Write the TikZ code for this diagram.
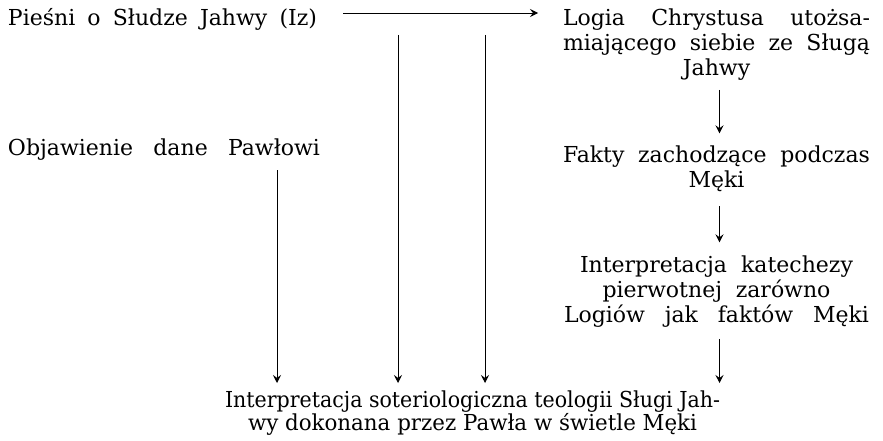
\documentclass[tikz,border=0pt]{standalone}
\usepackage{fontspec}
\usepackage{graphicx}
\setmainfont{DejaVu Serif}
\usetikzlibrary{arrows.meta,calc}
\newlength\natw
\newcommand{\jline}[2]{\settowidth\natw{#2}\ifdim\natw>#1pt\scalebox{\fpeval{#1/\natw}}[1]{#2}\else\makebox[#1pt][s]{#2}\fi}
\tikzset{
  txt/.style={inner sep=0pt, outer sep=0pt, anchor=base west, font=\fontsize{22}{25}\selectfont},
  arr/.style={-{Stealth[length=8pt,width=8pt,inset=3pt]}, line width=0.8pt}
}
\begin{document}
\begin{tikzpicture}[x=1pt,y=-1pt]
\useasboundingbox (0,0) rectangle (883,441);
% nodes
\node[txt] (pies) at (8,26) {\jline{309}{Pieśni o Słudze Jahwy (Iz)}};
\node[txt] (objaw) at (8,155) {\jline{312}{Objawienie dane Pawłowi}};
\node[txt] (logia) at (563,26) {\parbox[t]{307pt}{\centering
  \jline{307}{Logia Chrystusa utożsa-}\\
  \jline{307}{miającego siebie ze Sługą}\\
  Jahwy}};
\node[txt] (fakty) at (563,162) {\parbox[t]{307pt}{\centering
  \jline{307}{Fakty zachodzące podczas}\\
  Męki}};
\node[txt] (katech) at (563,272) {\parbox[t]{307pt}{\centering
  \jline{273}{Interpretacja katechezy}\\
  \jline{228}{pierwotnej zarówno}\\
  \jline{305}{Logiów jak faktów Męki}}};
\node[txt] (interp) at (225,407) {\parbox[t]{495pt}{\centering
  \jline{495}{Interpretacja soteriologiczna teologii Sługi Jah-}\\[-2pt]
  \jline{449}{wy dokonana przez Pawła w świetle Męki}}};
% coordinates
\coordinate (h1) at (343,13);
\coordinate (h2) at (538,13);
\coordinate (v1) at (398,35);
\coordinate (v2) at (485,35);
\coordinate (o1) at (277,170);
\coordinate (end) at (0,383);
% connectors
\draw[arr] (h1) -- (h2);
\draw[arr] (v1) -- (v1 |- end);
\draw[arr] (v2) -- (v2 |- end);
\draw[arr] (o1) -- (o1 |- end);
\draw[arr] ([xshift=3pt,yshift=-9pt]logia.south) -- ([xshift=3pt,yshift=12pt]fakty.north);
\draw[arr] ([xshift=3pt,yshift=-15pt]fakty.south) -- ([xshift=3pt,yshift=13pt]katech.north);
\draw[arr] ([xshift=3pt,yshift=-12pt]katech.south) -- ([xshift=3pt]katech.south |- end);
\end{tikzpicture}
\end{document}
